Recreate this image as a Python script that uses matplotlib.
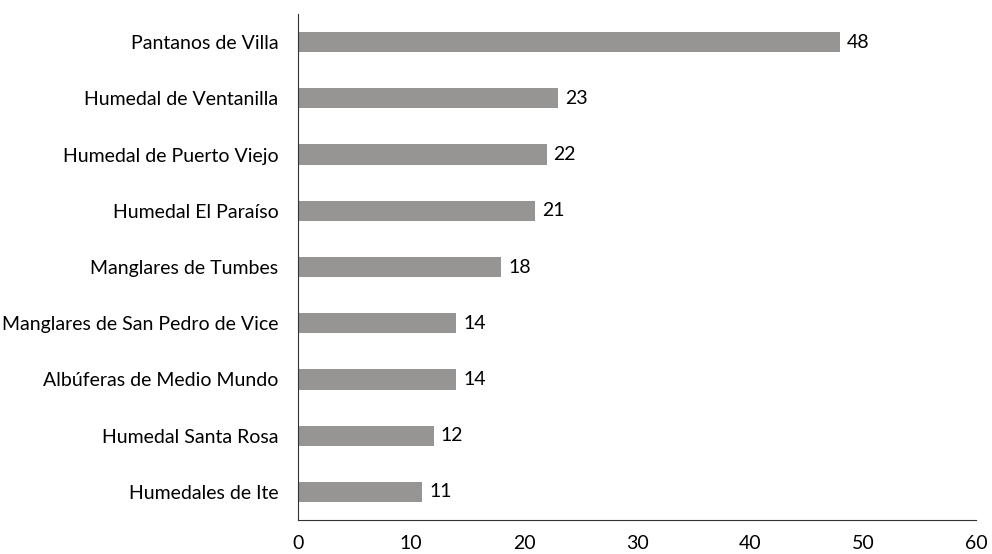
import matplotlib
matplotlib.use("Agg")
import matplotlib.pyplot as plt

# Datos
humedales = ["Pantanos de Villa", "Humedal de Ventanilla", "Humedal de Puerto Viejo",
             "Humedal El Paraíso", "Manglares de Tumbes", "Manglares de San Pedro de Vice",
             "Albúferas de Medio Mundo", "Humedal Santa Rosa", "Humedales de Ite"]
valores = [48, 23, 22, 21, 18, 14, 14, 12, 11]
ticks_x = [0, 10, 20, 30, 40, 50, 60]

plt.rcParams["font.family"] = ["Lato", "DejaVu Sans"]

fig = plt.figure(figsize=(9.92, 5.54), dpi=100)
ax = fig.add_axes([0.3004, 0.0614, 0.6835, 0.9133])

pos = list(range(len(humedales)))[::-1]
barras = ax.barh(pos, valores, height=0.36, color="#979494")

for b, v in zip(barras, valores):
    ax.text(b.get_width() + 0.6, b.get_y() + b.get_height() / 2, str(v),
            va="center", ha="left", fontsize=14, color="black")

ax.set_yticks(pos)
ax.set_yticklabels(humedales, fontsize=14)
ax.set_xticks(ticks_x)
ax.set_xticklabels([str(t) for t in ticks_x], fontsize=14)
ax.set_xlim(0, 60)
ax.set_ylim(-0.5, len(humedales) - 0.5)

ax.tick_params(axis="both", length=0)
ax.tick_params(axis="x", pad=11)
ax.tick_params(axis="y", pad=14)
ax.spines["top"].set_visible(False)
ax.spines["right"].set_visible(False)
ax.spines["left"].set_color("#333333")
ax.spines["bottom"].set_color("#333333")

plt.savefig("out.png", dpi=100)
